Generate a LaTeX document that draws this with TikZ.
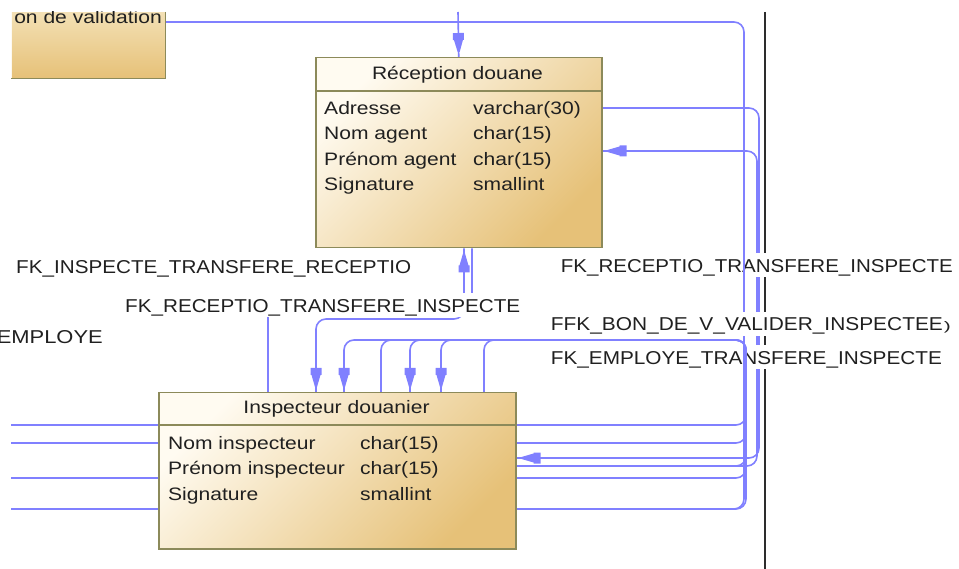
\documentclass[tikz,border=0pt]{standalone}
\usepackage{fontspec}
\setmainfont{Liberation Sans}
\usetikzlibrary{decorations.markings}

\definecolor{linkblue}{RGB}{128,128,255}
\definecolor{entlight}{RGB}{255,251,241}
\definecolor{entmid}{RGB}{243,224,180}
\definecolor{entdark}{RGB}{230,193,120}
\definecolor{entborder}{RGB}{140,138,90}
\definecolor{inktext}{RGB}{32,32,32}
\definecolor{railgray}{RGB}{45,45,45}

\pgfdeclarelayer{lay1}
\pgfdeclarelayer{lay2}
\pgfdeclarelayer{lay3}
\pgfdeclarelayer{lay4}
\pgfsetlayers{lay1,lay2,lay3,lay4,main}

% text set slightly wide, as the modeller draws it
\newcommand\wtext[1]{\scalebox{1.17}[1]{#1}}
% reference label fitted to a given width, caps 13pt high
\newcommand\fklabel[2]{\resizebox{#1}{13pt}{#2}}

\begin{document}
\begin{tikzpicture}[x=1pt,y=-1pt,
  font=\fontsize{18}{21}\selectfont,
  entity/.style={draw=entborder, line width=1.5pt, top color=entlight,
    bottom color=entdark, shading angle=45, inner sep=0pt, anchor=north west},
  sepline/.style={draw=entborder, line width=1.5pt},
  cell/.style={inner sep=0pt, text=inktext, anchor=base west},
  etitle/.style={inner sep=0pt, text=inktext, anchor=base},
  link/.style={draw=linkblue, line width=1.6pt, rounded corners=10pt},
  fklbl/.style={fill=white, inner xsep=2pt, inner ysep=0pt, text height=19pt,
    text depth=5pt, text=inktext, anchor=base west},
  headshape/.style={fill=linkblue, sharp corners},
  fkend/.style={postaction={decorate,decoration={markings,
    mark=at position -5pt with {\path[headshape] (0,-1) -- (-12,-4.5) -- (-12,-5.5)
      -- (-19,-5.5) -- (-19,5.5) -- (-12,5.5) -- (-12,4.5) -- (0,1) -- cycle;}}}},
  fkstart/.style={postaction={decorate,decoration={markings,
    mark=at position 5pt with {\path[headshape, rotate=180] (0,-1) -- (-12,-4.5) -- (-12,-5.5)
      -- (-19,-5.5) -- (-19,5.5) -- (-12,5.5) -- (-12,4.5) -- (0,1) -- cycle;}}}}
]
\useasboundingbox (0,0) rectangle (959,569);

% ---------- entities ----------
\node[entity, draw=none, top color=entmid, minimum width=153pt, minimum height=65pt] (bon) at (11,12) {};
\draw[sepline] (bon.north east) -- (bon.south east) -- (bon.south west);
\begin{scope}
  \clip (bon.north west) rectangle (bon.south east);
  \node[etitle, anchor=base east] (bontitle) at (162,24) {\wtext{on de validation}};
\end{scope}

\node[entity, minimum width=286pt, minimum height=190pt] (rec) at (315,57) {};
\draw[sepline] (rec.west |- 0,91) -- (rec.east |- 0,91);
\node[etitle] (rectitle) at (457.5,80) {\wtext{Réception douane}};
\node[cell] (r1n) at (324,114.7) {\wtext{Adresse}};
\node[cell] (r1t) at (473,114.7) {\wtext{varchar(30)}};
\node[cell] (r2n) at (324,140) {\wtext{Nom agent}};
\node[cell] (r2t) at (473,140) {\wtext{char(15)}};
\node[cell] (r3n) at (324,165.3) {\wtext{Prénom agent}};
\node[cell] (r3t) at (473,165.3) {\wtext{char(15)}};
\node[cell] (r4n) at (324,190.6) {\wtext{Signature}};
\node[cell] (r4t) at (473,190.6) {\wtext{smallint}};

\node[entity, minimum width=357pt, minimum height=156pt] (insp) at (158,392) {};
\draw[sepline] (insp.west |- 0,425) -- (insp.east |- 0,425);
\node[etitle] (insptitle) at (336.5,413.7) {\wtext{Inspecteur douanier}};
\node[cell] (i1n) at (168,449) {\wtext{Nom inspecteur}};
\node[cell] (i1t) at (360,449) {\wtext{char(15)}};
\node[cell] (i2n) at (168,474.7) {\wtext{Prénom inspecteur}};
\node[cell] (i2t) at (360,474.7) {\wtext{char(15)}};
\node[cell] (i3n) at (168,500.3) {\wtext{Signature}};
\node[cell] (i3t) at (360,500.3) {\wtext{smallint}};

% free ends of links leaving the view on the left
\coordinate (w1) at (11,425);
\coordinate (w2) at (11,443);
\coordinate (w3) at (11,478);
\coordinate (w4) at (11,509);
\coordinate (topin) at (458,12);
\coordinate (railtop) at (765,12);
\coordinate (railbot) at (765,569);

% ---------- links under every label ----------
\begin{pgfonlayer}{lay1}
  \draw[railgray, line width=2.2pt] (railtop) -- (railbot);
  \draw[link, fkend] (rec.east |- 0,108) -- (759,108) -- (759,458) -- (insp.east |- 0,458);
  \draw[link, fkend] (insp.east |- 0,466) -- (757,466) -- (757,151) -- (rec.east |- 0,151);
  \draw[link, fkstart, fkend] (rec.south -| 464,0) -- (464,319) -- (316,319) -- (insp.north -| 316,0);
  \draw[link] (rec.south -| 472,0) -- (472,305) -- (268,305) -- (insp.north -| 268,0);
\end{pgfonlayer}

% ---------- reference labels ----------
\begin{pgfonlayer}{lay2}
  \node[fklbl] (lblA) at (14,274) {\fklabel{395pt}{FK\_INSPECTE\_TRANSFERE\_RECEPTIO}};
  \node[fklbl] (lblB) at (123,312.3) {\fklabel{395pt}{FK\_RECEPTIO\_TRANSFERE\_INSPECTE}};
  \begin{scope}
    \clip (0,0) rectangle (959,569);
    \node[fklbl, anchor=base east] (lblC) at (105,343.3) {\fklabel{106pt}{EMPLOYE}};
  \end{scope}
  \node[fklbl] (lblD) at (558.7,272.3) {\fklabel{392pt}{FK\_RECEPTIO\_TRANSFERE\_INSPECTE}};
  \node[fklbl] (lblF) at (548.7,364.3) {\fklabel{391pt}{FK\_EMPLOYE\_TRANSFERE\_INSPECTE}};
\end{pgfonlayer}

% ---------- links drawn over the labels ----------
\begin{pgfonlayer}{lay3}
  \draw[link, fkend] (topin) -- (rec.north);
  \draw[link] (bon.east |- 0,22) -- (744,22) -- (744,509) -- (w4);
  \draw[link, fkend] (w1) -- (746,425) -- (746,340) -- (441,340) -- (insp.north -| 441,0);
  \draw[link, fkend] (w2) -- (746,443) -- (746,340) -- (410,340) -- (insp.north -| 410,0);
  \draw[link] (insp.east |- 0,466) -- (746,466) -- (746,340) -- (484,340) -- (insp.north -| 484,0);
  \draw[link] (w3) -- (746,478) -- (746,340) -- (381,340) -- (insp.north -| 381,0);
  \draw[link, fkend] (w4) -- (746,509) -- (746,340) -- (344,340) -- (insp.north -| 344,0);
\end{pgfonlayer}

\begin{pgfonlayer}{lay4}
  \node[fklbl] (lblE) at (548.7,330.7) {\fklabel{392pt}{FFK\_BON\_DE\_V\_VALIDER\_INSPECTEE}\hspace{1pt}\resizebox{7pt}{9pt}{)}};
\end{pgfonlayer}
\end{tikzpicture}
\end{document}
